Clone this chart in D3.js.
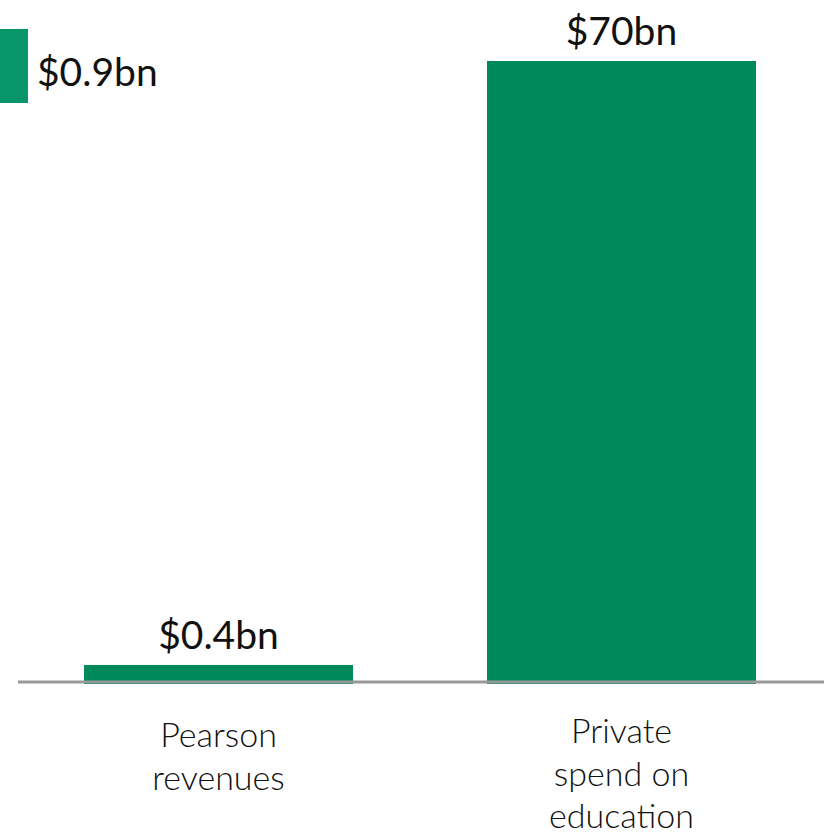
<!DOCTYPE html>
<html>
<head>
<meta charset="utf-8">
<script src="https://cdn.jsdelivr.net/npm/d3@7"></script>
<style>
  html, body { margin: 0; padding: 0; background: #fff; }
  svg { display: block; }
  text { font-family: Lato, "Open Sans", sans-serif; fill: #111; }
</style>
</head>
<body>
<script>
// Category labels (each entry is the lines of one label)
const categories = ["Pearson revenues", "Private spend on education"];
const categoryLines = [["Pearson", "revenues"], ["Private", "spend on", "education"]];
// Values in $bn
const values = [0.4, 70];
const valueLabels = ["$0.4bn", "$70bn"];
// Side figure shown at the top-left
const sideValue = [0.9];
const sideLabel = ["$0.9bn"];

const W = 829, H = 835;
const green = "#00895a";

const svg = d3.select("body").append("svg")
  .attr("width", W).attr("height", H);

const baseline = 682;

const x = d3.scaleBand()
  .domain(categories)
  .range([18, 822])
  .paddingInner(0.3325)
  .paddingOuter(0.1638);

// Domain floor below zero keeps small values visible beside the large one
const yFloor = -1.68;
const y = d3.scaleLinear()
  .domain([yFloor, 70])
  .range([baseline + 1, 61]);

// Bars
svg.selectAll("rect.bar")
  .data(values)
  .join("rect")
  .attr("class", "bar")
  .attr("x", (d, i) => x(categories[i]))
  .attr("width", x.bandwidth())
  .attr("y", d => y(d))
  .attr("height", d => y(yFloor) - y(d) + 1)
  .attr("fill", green);

// Baseline
svg.append("line")
  .attr("x1", 18).attr("x2", 824)
  .attr("y1", baseline).attr("y2", baseline)
  .attr("stroke", "#999").attr("stroke-width", 3);

// Value labels
svg.selectAll("text.value")
  .data(values)
  .join("text")
  .attr("class", "value")
  .attr("x", (d, i) => x(categories[i]) + x.bandwidth() / 2)
  .attr("y", d => y(d) - 16)
  .attr("text-anchor", "middle")
  .attr("font-size", 39)
  .text((d, i) => valueLabels[i]);

// Category labels
const catG = svg.selectAll("g.cat")
  .data(categories)
  .join("g")
  .attr("class", "cat")
  .attr("transform", d => `translate(${x(d) + x.bandwidth() / 2},0)`);

catG.each(function (d, i) {
  const lines = categoryLines[i];
  const first = lines.length === 2 ? 747 : 743;
  d3.select(this).selectAll("text")
    .data(lines)
    .join("text")
    .attr("text-anchor", "middle")
    .attr("font-size", 34)
    .attr("font-weight", 300)
    .attr("y", (t, j) => first + j * 42.5)
    .text(t => t);
});

// Side figure at top-left
svg.append("rect")
  .attr("x", 0).attr("y", 29)
  .attr("width", 28).attr("height", 74)
  .attr("fill", "#06966a");

svg.append("text")
  .attr("x", 37).attr("y", 86)
  .attr("font-size", 39)
  .text(sideLabel[0]);
</script>
</body>
</html>
